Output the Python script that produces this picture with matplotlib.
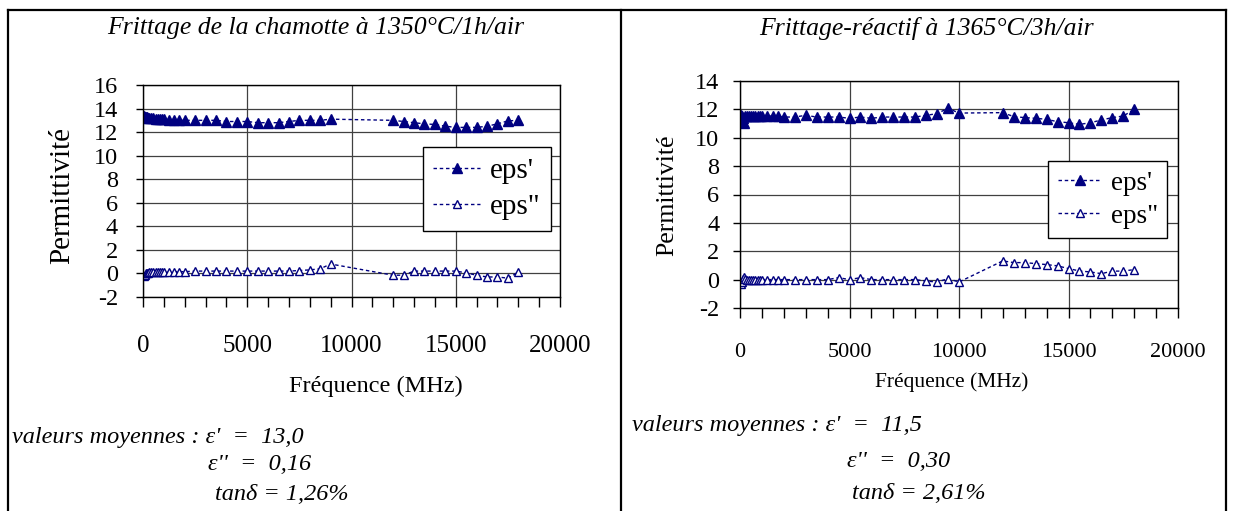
import matplotlib
matplotlib.use("Agg")
import matplotlib.pyplot as plt
from matplotlib.lines import Line2D
from matplotlib.ticker import MultipleLocator

plt.rcParams['font.family'] = ['Liberation Serif', 'DejaVu Serif']
plt.rcParams['axes.unicode_minus'] = False

# ---------------- data ----------------
title_L = "Frittage de la chamotte à 1350°C/1h/air"
title_R = "Frittage-réactif à 1365°C/3h/air"
ylabel = "Permittivité"
xlabel = "Fréquence (MHz)"
series_names = ["eps'", 'eps"']

freq_L = [50, 100, 150, 200, 250, 300, 400, 500, 600, 700, 800, 900, 1000, 1250, 1500, 1750,
          2000, 2500, 3000, 3500, 4000, 4500, 5000, 5500, 6000, 6500, 7000, 7500, 8000, 8500, 9000,
          12000, 12500, 13000, 13500, 14000, 14500, 15000, 15500, 16000, 16500, 17000, 17500, 18000]
eps1_L = [13.4, 13.3, 13.3, 13.3, 13.2, 13.2, 13.2, 13.2, 13.1, 13.1, 13.1, 13.1, 13.1, 13.0, 13.0, 13.0,
          13.0, 13.0, 13.0, 13.0, 12.9, 12.9, 12.9, 12.8, 12.8, 12.8, 12.9, 13.0, 13.0, 13.0, 13.1,
          13.0, 12.9, 12.8, 12.7, 12.65, 12.5, 12.4, 12.4, 12.4, 12.5, 12.7, 12.95, 13.0]
eps2_L = [-0.2, -0.1, 0.0, 0.0, 0.05, 0.1, 0.1, 0.1, 0.1, 0.1, 0.15, 0.15, 0.15, 0.15, 0.15, 0.15,
          0.15, 0.2, 0.2, 0.2, 0.2, 0.2, 0.2, 0.2, 0.2, 0.2, 0.2, 0.25, 0.3, 0.4, 0.8,
          -0.15, -0.15, 0.2, 0.2, 0.2, 0.2, 0.2, 0.05, -0.15, -0.3, -0.3, -0.4, 0.1]

freq_R = [50, 100, 150, 200, 250, 300, 400, 500, 600, 700, 800, 900, 1000, 1250, 1500, 1750,
          2000, 2500, 3000, 3500, 4000, 4500, 5000, 5500, 6000, 6500, 7000, 7500, 8000, 8500, 9000, 9500, 10000,
          12000, 12500, 13000, 13500, 14000, 14500, 15000, 15500, 16000, 16500, 17000, 17500, 18000]
eps1_R = [11.6, 11.5, 11.4, 11.05, 11.5, 11.5, 11.5, 11.5, 11.5, 11.5, 11.5, 11.5, 11.5, 11.5, 11.55, 11.5,
          11.46, 11.46, 11.58, 11.46, 11.46, 11.46, 11.37, 11.46, 11.37, 11.46, 11.46, 11.46, 11.46, 11.58, 11.7, 12.08, 11.74,
          11.77, 11.49, 11.42, 11.37, 11.3, 11.13, 11.06, 10.94, 11.06, 11.25, 11.42, 11.53, 12.0]
eps2_R = [-0.28, -0.15, 0.05, 0.15, 0.05, 0.0, 0.0, 0.0, 0.0, 0.0, 0.0, 0.0, 0.0, 0.0, 0.0, 0.0,
          0.0, 0.0, 0.0, 0.0, 0.0, 0.14, 0.0, 0.14, 0.0, 0.0, 0.0, 0.0, 0.0, -0.1, -0.17, 0.07, -0.17,
          1.32, 1.2, 1.2, 1.13, 1.06, 0.97, 0.78, 0.61, 0.54, 0.42, 0.6, 0.6, 0.71]

notes_L = ["valeurs moyennes : ε'  =  13,0", "ε''  =  0,16", "tanδ = 1,26%"]
notes_R = ["valeurs moyennes : ε'  =  11,5", "ε''  =  0,30", "tanδ = 2,61%"]

# ---------------- figure ----------------
W, H = 1233, 511
fig = plt.figure(figsize=(W / 100, H / 100), dpi=100)
NAVY = '#000080'


def fx(x):
    return x / W


def fy(y):
    return 1 - y / H


def axes_px(x0, y0, x1, y1):
    return fig.add_axes([fx(x0), fy(y1), (x1 - x0) / W, (y1 - y0) / H])


# table borders
for xs, ys in [([8, 8], [10, H]), ([8, 1226], [10, 10]), ([621, 621], [10, H]), ([1226, 1226], [10, H])]:
    fig.add_artist(Line2D([fx(v) for v in xs], [fy(v) for v in ys], transform=fig.transFigure,
                          color='black', lw=1.6))


def make_panel(box, freq, e1, e2, ymax, tick_fs, xtick_fs, xpad, ypad, leg_fs, leg_center, leg_spacing):
    ax = axes_px(*box)
    ax.plot(freq, e1, linestyle=(0, (2.5, 2)), color=NAVY, lw=1.0, marker='^', ms=6.5,
            mfc=NAVY, mec=NAVY, label=series_names[0])
    ax.plot(freq, e2, linestyle=(0, (2.5, 2)), color=NAVY, lw=1.0, marker='^', ms=6,
            mfc='white', mec=NAVY, mew=1.0, label=series_names[1])
    ax.set_xlim(0, 20000)
    ax.set_ylim(-2, ymax)
    ax.xaxis.set_major_locator(MultipleLocator(5000))
    ax.xaxis.set_minor_locator(MultipleLocator(1000))
    ax.yaxis.set_major_locator(MultipleLocator(2))
    ax.grid(True, which='major', color='#404040', lw=0.9)
    ax.set_axisbelow(True)
    for s in ax.spines.values():
        s.set_color('black')
        s.set_linewidth(1.0)
    ax.tick_params(axis='x', which='both', direction='out', length=7, width=1, colors='black',
                   labelsize=xtick_fs, pad=xpad)
    ax.tick_params(axis='y', which='major', direction='out', length=5, width=1, colors='black',
                   labelsize=tick_fs, pad=ypad)
    leg = ax.legend(loc='center', bbox_to_anchor=leg_center, fontsize=leg_fs, frameon=True,
                    fancybox=False, edgecolor='black', framealpha=1, handlelength=1.6,
                    labelspacing=leg_spacing, borderpad=0.35, handletextpad=0.35, borderaxespad=0)
    leg.get_frame().set_linewidth(1.0)
    return ax


axL = make_panel((143, 85, 560, 297), freq_L, eps1_L, eps2_L, 16, 17.5, 18, 20.5, 13, 21,
                 (0.825, 0.51), 0.35)
axR = make_panel((740, 81, 1178, 308), freq_R, eps1_R, eps2_R, 14, 17.5, 16, 18.5, 10, 19.5,
                 (0.84, 0.477), 0.3)

# titles
fig.text(fx(316), fy(28), title_L, ha='center', va='center', style='italic', fontsize=18.5)
fig.text(fx(926), fy(28), title_R, ha='center', va='center', style='italic', fontsize=18.5)

# axis labels
fig.text(fx(62), fy(196), ylabel, rotation=90, ha='center', va='center', fontsize=21)
fig.text(fx(667), fy(195), ylabel, rotation=90, ha='center', va='center', fontsize=18.5)
fig.text(fx(376), fy(386), xlabel, ha='center', va='center', fontsize=17.5)
fig.text(fx(952), fy(382), xlabel, ha='center', va='center', fontsize=15.5)

# notes
for (x, y), s in zip([(12, 437), (208, 464), (215, 494)], notes_L):
    fig.text(fx(x), fy(y), s, ha='left', va='center', style='italic', fontsize=17.5)
for (x, y), s in zip([(632, 426), (847, 461), (852, 493)], notes_R):
    fig.text(fx(x), fy(y), s, ha='left', va='center', style='italic', fontsize=17.5)

fig.savefig('out.png', dpi=100)
